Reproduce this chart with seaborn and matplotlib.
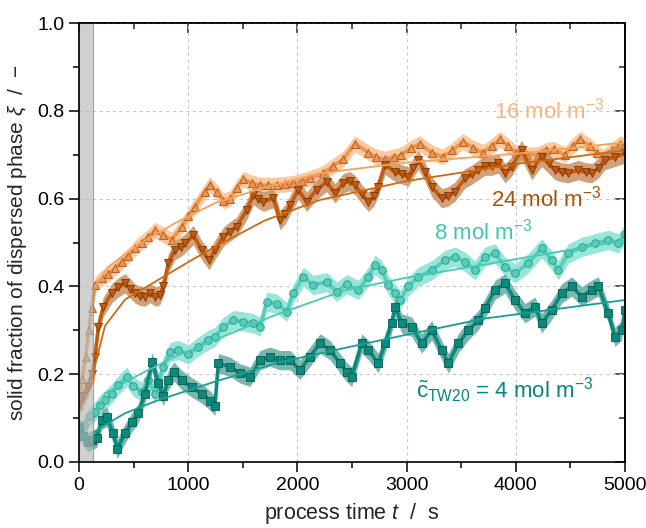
import numpy as np
import pandas as pd
import matplotlib
matplotlib.use("Agg")
import matplotlib.pyplot as plt
from matplotlib.ticker import MultipleLocator
import seaborn as sns

### Data

t16 = [0, 30, 60, 90, 115, 147, 208, 268, 330, 391, 452, 513, 574, 635, 696, 772, 849, 940,
       1000, 1062, 1154, 1200, 1260, 1322, 1383, 1445, 1505, 1580, 1658, 1730, 1810, 1890,
       1963, 2040, 2115, 2237, 2330, 2420, 2527, 2650, 2720, 2800, 2880, 2950, 3040, 3120,
       3230, 3330, 3420, 3516, 3610, 3700, 3780, 3855, 3930, 4000, 4100, 4200, 4280, 4350,
       4450, 4520, 4588, 4680, 4740, 4800, 4880, 4954, 5000]
xi16 = [0.13, 0.19, 0.24, 0.30, 0.35, 0.403, 0.419, 0.428, 0.442, 0.456, 0.47, 0.487, 0.50,
        0.513, 0.528, 0.517, 0.506, 0.536, 0.56, 0.582, 0.616, 0.632, 0.615, 0.595, 0.60,
        0.625, 0.644, 0.636, 0.631, 0.630, 0.631, 0.633, 0.635, 0.64, 0.646, 0.658, 0.675,
        0.69, 0.725, 0.705, 0.695, 0.69, 0.695, 0.70, 0.715, 0.725, 0.705, 0.695, 0.71, 0.73,
        0.715, 0.705, 0.72, 0.735, 0.72, 0.705, 0.70, 0.70, 0.71, 0.712, 0.70, 0.72, 0.735,
        0.72, 0.705, 0.695, 0.71, 0.725, 0.72]

t24 = [0, 40, 80, 120, 147, 177, 223, 299, 360, 421, 470, 513, 560, 604, 650, 696, 740, 772,
       818, 879, 930, 971, 1047, 1123, 1190, 1245, 1322, 1380, 1444, 1536, 1597, 1640, 1688,
       1780, 1841, 1890, 1932, 2008, 2085, 2176, 2268, 2344, 2420, 2480, 2527, 2590, 2650,
       2700, 2741, 2802, 2894, 2960, 3016, 3060, 3107, 3170, 3230, 3321, 3380, 3443, 3535,
       3600, 3657, 3718, 3780, 3840, 3901, 3962, 4054, 4145, 4237, 4300, 4359, 4420, 4481,
       4573, 4640, 4695, 4760, 4817, 4908, 5000]
xi24 = [0.13, 0.15, 0.17, 0.20, 0.24, 0.308, 0.354, 0.384, 0.398, 0.407, 0.395, 0.384, 0.378,
        0.377, 0.385, 0.377, 0.38, 0.40, 0.453, 0.483, 0.49, 0.498, 0.517, 0.483, 0.46, 0.483,
        0.513, 0.525, 0.536, 0.574, 0.608, 0.60, 0.593, 0.601, 0.551, 0.565, 0.585, 0.62,
        0.593, 0.62, 0.638, 0.612, 0.635, 0.64, 0.631, 0.61, 0.593, 0.605, 0.627, 0.677,
        0.661, 0.655, 0.65, 0.67, 0.688, 0.66, 0.627, 0.601, 0.605, 0.616, 0.646, 0.655,
        0.665, 0.675, 0.675, 0.68, 0.658, 0.673, 0.711, 0.665, 0.695, 0.68, 0.665, 0.66,
        0.658, 0.665, 0.66, 0.658, 0.67, 0.688, 0.695, 0.703]

t8 = [0, 50, 100, 147, 190, 238, 299, 360, 437, 497, 574, 635, 696, 772, 833, 910, 1001,
      1093, 1184, 1245, 1322, 1413, 1505, 1597, 1658, 1719, 1810, 1902, 1963, 2054, 2145,
      2268, 2360, 2451, 2558, 2650, 2711, 2772, 2833, 2894, 2940, 3016, 3107, 3230, 3352,
      3443, 3535, 3626, 3718, 3810, 3901, 3993, 4115, 4237, 4328, 4389, 4481, 4603, 4725,
      4847, 4939, 5000]
xi8 = [0.06, 0.085, 0.105, 0.115, 0.13, 0.141, 0.156, 0.175, 0.194, 0.172, 0.16, 0.187,
       0.156, 0.217, 0.25, 0.255, 0.245, 0.263, 0.278, 0.285, 0.308, 0.323, 0.320, 0.316,
       0.308, 0.365, 0.361, 0.342, 0.384, 0.422, 0.403, 0.41, 0.388, 0.405, 0.392, 0.422,
       0.449, 0.437, 0.403, 0.384, 0.369, 0.40, 0.422, 0.437, 0.46, 0.468, 0.456, 0.437,
       0.468, 0.475, 0.445, 0.43, 0.453, 0.487, 0.46, 0.437, 0.475, 0.49, 0.498, 0.506,
       0.498, 0.52]

t4 = [0, 40, 80, 120, 162, 208, 253, 314, 350, 421, 482, 543, 604, 670, 726, 772, 818, 870,
      940, 1032, 1123, 1200, 1245, 1276, 1383, 1474, 1566, 1658, 1749, 1841, 1932, 2024,
      2115, 2207, 2298, 2390, 2450, 2497, 2589, 2650, 2741, 2802, 2863, 2894, 2955, 3047,
      3138, 3230, 3321, 3382, 3473, 3565, 3657, 3718, 3810, 3901, 3993, 4084, 4176, 4237,
      4328, 4420, 4512, 4603, 4695, 4756, 4847, 4908, 4969, 5000]
xi4 = [0.08, 0.06, 0.045, 0.05, 0.055, 0.096, 0.103, 0.065, 0.03, 0.065, 0.09, 0.111, 0.156,
       0.228, 0.179, 0.15, 0.187, 0.206, 0.187, 0.17, 0.156, 0.14, 0.128, 0.225, 0.217,
       0.202, 0.194, 0.232, 0.24, 0.232, 0.232, 0.21, 0.24, 0.27, 0.255, 0.225, 0.205,
       0.194, 0.27, 0.255, 0.225, 0.27, 0.316, 0.354, 0.316, 0.308, 0.27, 0.30, 0.255,
       0.225, 0.27, 0.30, 0.323, 0.35, 0.392, 0.407, 0.369, 0.339, 0.354, 0.316, 0.346,
       0.384, 0.40, 0.377, 0.392, 0.40, 0.339, 0.285, 0.30, 0.346]

# fitted curves, read at a few points
fit_t16 = [130, 147, 268, 574, 879, 1245, 1700, 2207, 3000, 4038, 5000]
fit_xi16 = [0.39, 0.40, 0.445, 0.50, 0.544, 0.59, 0.625, 0.658, 0.682, 0.703, 0.728]
fit_t24 = [130, 147, 238, 421, 726, 1032, 1245, 1700, 2207, 3000, 4038, 5000]
fit_xi24 = [0.18, 0.22, 0.31, 0.37, 0.415, 0.46, 0.49, 0.55, 0.597, 0.64, 0.68, 0.71]
fit_t8 = [130, 147, 238, 574, 879, 1245, 1800, 2420, 3000, 3718, 5000]
fit_xi8 = [0.105, 0.11, 0.156, 0.202, 0.24, 0.278, 0.335, 0.39, 0.42, 0.45, 0.505]
fit_t4 = [130, 208, 421, 726, 1245, 1800, 2436, 3000, 3718, 5000]
fit_xi4 = [0.065, 0.08, 0.111, 0.141, 0.183, 0.225, 0.26, 0.29, 0.327, 0.369]

# error band half widths
err16, err24, err8, err4 = 0.018, 0.022, 0.022, 0.022

labels = ["16 mol m$^{-3}$", "24 mol m$^{-3}$", "8 mol m$^{-3}$",
          r"$\tilde{\mathrm{c}}_{\mathrm{TW20}}$ = 4 mol m$^{-3}$"]

### Plot

sns.set_theme(style="ticks")
plt.rcParams["font.family"] = ["Liberation Sans", "DejaVu Sans"]
plt.rcParams["mathtext.fontset"] = "custom"
plt.rcParams["mathtext.rm"] = "Liberation Sans"
plt.rcParams["mathtext.it"] = "Liberation Sans:italic"

fig = plt.figure(figsize=(6.46, 5.28), dpi=100)
ax = fig.add_axes([0.1223, 0.125, 0.8452, 0.8314])

series = [
    # t, xi, err, fit_t, fit_xi, band, face, edge, fitcolor, marker
    (t16, xi16, err16, fit_t16, fit_xi16, "#fdbf8c", "#ec9650", "#a8561c", "#f7a15a", "^"),
    (t24, xi24, err24, fit_t24, fit_xi24, "#c98f62", "#c2590b", "#7d3604", "#d0690f", "v"),
    (t8, xi8, err8, fit_t8, fit_xi8, "#86e2d4", "#55cdb9", "#2d9384", "#45cab5", "o"),
    (t4, xi4, err4, fit_t4, fit_xi4, "#62aaa1", "#0b8a7c", "#03594f", "#13a191", "s"),
]

for i, (t, xi, err, ft, fxi, band, face, edge, fitc, mk) in enumerate(series):
    t = np.array(t)
    xi = np.array(xi)
    ax.fill_between(t, xi - err, xi + err, color=band, alpha=0.85, lw=0, zorder=2 + i)
    df = pd.DataFrame({"t": t, "xi": xi})
    sns.lineplot(data=df, x="t", y="xi", ax=ax, color=face, lw=2.6, marker=mk,
                 markersize=5.5, markerfacecolor=face, markeredgecolor=edge,
                 markeredgewidth=0.6, zorder=2.5 + i)

for i, (t, xi, err, ft, fxi, band, face, edge, fitc, mk) in enumerate(series):
    fdf = pd.DataFrame({"t": ft, "xi": fxi})
    sns.lineplot(data=fdf, x="t", y="xi", ax=ax, color=fitc, lw=1.3, zorder=8)

# start-up region
ax.axvspan(0, 125, facecolor="#b8b8b8", alpha=0.65, edgecolor="#808080", lw=0.8, zorder=9)

ax.text(4810, 0.80, labels[0], color="#f8b47c", fontsize=16, ha="right", va="center")
ax.text(4790, 0.60, labels[1], color="#a5520b", fontsize=16, ha="right", va="center")
ax.text(3250, 0.525, labels[2], color="#3fc6b0", fontsize=16, ha="left", va="center")
ax.text(3090, 0.163, labels[3], color="#03877a", fontsize=16, ha="left", va="center")

ax.set_xlim(0, 5000)
ax.set_ylim(0, 1.0)
ax.xaxis.set_major_locator(MultipleLocator(1000))
ax.xaxis.set_minor_locator(MultipleLocator(500))
ax.yaxis.set_major_locator(MultipleLocator(0.2))
ax.yaxis.set_minor_locator(MultipleLocator(0.1))
ax.set_yticks([0, 0.2, 0.4, 0.6, 0.8, 1.0], ["0.0", "0.2", "0.4", "0.6", "0.8", "1.0"])
ax.grid(True, which="major", ls=(0, (3, 3)), color="#c8c8c8", lw=0.8)
ax.set_axisbelow(True)

for s in ax.spines.values():
    s.set_visible(True)
    s.set_linewidth(1.2)
    s.set_color("black")
    s.set_zorder(10)

ax.tick_params(which="both", direction="out", top=False, right=False,
               labelsize=14, colors="black", width=1.1)
ax.tick_params(which="major", length=7)
ax.tick_params(which="minor", length=4)

top = ax.secondary_xaxis("top")
top.xaxis.set_major_locator(MultipleLocator(1000))
top.xaxis.set_minor_locator(MultipleLocator(500))
top.tick_params(which="both", direction="in", labeltop=False, width=1.1)
top.tick_params(which="major", length=7)
top.tick_params(which="minor", length=4)
right = ax.secondary_yaxis("right")
right.yaxis.set_major_locator(MultipleLocator(0.2))
right.yaxis.set_minor_locator(MultipleLocator(0.1))
right.tick_params(which="both", direction="in", labelright=False, width=1.1)
right.tick_params(which="major", length=7)
right.tick_params(which="minor", length=4)

ax.set_xlabel("process time $t$  /  s", fontsize=15.5, labelpad=5)
ax.set_ylabel(r"solid fraction of dispersed phase $\xi$  /  $-$", fontsize=15, labelpad=6)

fig.savefig("out.png", dpi=100)
